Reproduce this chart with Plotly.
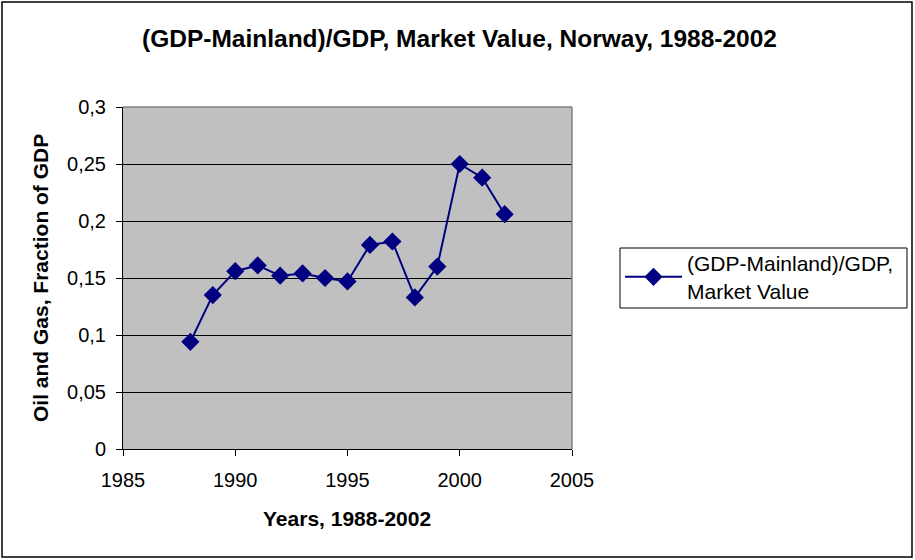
import plotly.graph_objects as go

years = [1988, 1989, 1990, 1991, 1992, 1993, 1994, 1995, 1996, 1997, 1998, 1999, 2000, 2001, 2002]
share = [0.094, 0.135, 0.156, 0.161, 0.152, 0.154, 0.150, 0.147, 0.179, 0.182, 0.133, 0.160, 0.250, 0.238, 0.206]
y_tick_vals = [0, 0.05, 0.1, 0.15, 0.2, 0.25, 0.3]
y_tick_text = ["0", "0,05", "0,1", "0,15", "0,2", "0,25", "0,3"]
x_tick_vals = [1985, 1990, 1995, 2000, 2005]

W, H = 915, 560
L, R, T, B = 123, 572, 107, 449
FONT = "Liberation Sans, Arial, sans-serif"

def px(x):
    return (x - L) / (R - L)

def py(y):
    return (B - y) / (B - T)

fig = go.Figure()
fig.add_trace(go.Scatter(
    x=years, y=share, mode="lines+markers",
    name="(GDP-Mainland)/GDP,<br>Market Value",
    line=dict(color="#000080", width=2),
    marker=dict(symbol="diamond", size=14, color="#000080"),
))

fig.update_layout(
    width=W, height=H,
    margin=dict(l=L, r=W - R, t=T, b=H - B),
    paper_bgcolor="white", plot_bgcolor="#C0C0C0",
    font=dict(family=FONT, size=20, color="black"),
    showlegend=True,
    legend=dict(x=px(620), xanchor="left", y=py(243), yanchor="top",
                borderwidth=0, bgcolor="rgba(0,0,0,0)",
                font=dict(size=21), tracegroupgap=0, itemwidth=57),
    xaxis=dict(range=[1985, 2005], tickvals=x_tick_vals, showgrid=False,
               zeroline=False, showline=True, linecolor="black", linewidth=1,
               ticks="outside", ticklen=6, tickcolor="black",
               ticklabelstandoff=7, tickfont=dict(size=20)),
    yaxis=dict(range=[0, 0.3], tickvals=y_tick_vals, ticktext=y_tick_text,
               showgrid=True, gridcolor="black", gridwidth=1, zeroline=False,
               showline=True, linecolor="black", linewidth=1,
               ticks="outside", ticklen=6, tickcolor="black",
               ticklabelstandoff=6, tickfont=dict(size=20)),
    annotations=[
        dict(text="<b>(GDP-Mainland)/GDP, Market Value, Norway, 1988-2002</b>",
             xref="paper", yref="paper", x=px(W / 2 + 2), y=py(38),
             xanchor="center", yanchor="middle", showarrow=False,
             font=dict(size=24.5)),
        dict(text="<b>Years, 1988-2002</b>",
             xref="paper", yref="paper", x=px(347), y=py(518),
             xanchor="center", yanchor="middle", showarrow=False,
             font=dict(size=21)),
        dict(text="<b>Oil and Gas, Fraction of GDP</b>",
             xref="paper", yref="paper", x=px(40), y=py(278),
             xanchor="center", yanchor="middle", showarrow=False,
             textangle=-90, font=dict(size=21)),
    ],
    shapes=[
        dict(type="line", xref="paper", yref="paper", x0=0, x1=1, y0=1, y1=1,
             line=dict(color="#808080", width=1.5)),
        dict(type="line", xref="paper", yref="paper", x0=1, x1=1, y0=0, y1=1,
             line=dict(color="#808080", width=1.5)),
        dict(type="rect", xref="paper", yref="paper",
             x0=px(2), x1=px(912), y0=py(557), y1=py(2),
             line=dict(color="black", width=1.5), layer="below"),
        dict(type="rect", xref="paper", yref="paper",
             x0=px(620), x1=px(907), y0=py(308), y1=py(248),
             line=dict(color="black", width=1), layer="above"),
    ],
)

fig.write_html("out.html", config={"displayModeBar": False},
               post_script="document.body.style.margin='0';")
